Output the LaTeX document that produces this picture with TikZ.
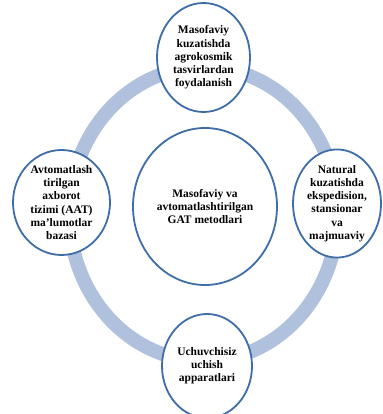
\documentclass[tikz,border=0pt]{standalone}
\usepackage{fontspec}
\setmainfont{Liberation Serif}
\usetikzlibrary{shapes.geometric}
\definecolor{ringblue}{RGB}{176,193,221}
\definecolor{edgeblue}{RGB}{62,109,168}
\tikzset{
  bubble/.style={ellipse, draw=edgeblue, line width=1.8pt, fill=white, inner sep=0pt,
    align=center, font=\fontsize{11.5}{13.2}\selectfont\bfseries},
  ring/.style={draw=ringblue, line width=14pt}
}
\begin{document}
\begin{tikzpicture}[x=1pt,y=-1pt]
\useasboundingbox (0,0) rectangle (382,414);
\draw[ring] (203.5,214) ellipse [x radius=134, y radius=147];
\node[bubble, minimum width=93pt, minimum height=109pt] (top) at (203.5,57.5)
  {Masofaviy\\kuzatishda\\agrokosmik\\tasvirlardan\\foydalanish};
\node[bubble, minimum width=97pt, minimum height=105pt] (left) at (61.5,202.5)
  {Avtomatlash\\tirilgan\\axborot\\tizimi (AAT)\\ma’lumotlar\\bazasi};
\node[bubble, minimum width=88pt, minimum height=104pt] (right) at (337,203.5)
  {Natural\\kuzatishda\\ekspedision,\\stansionar\\va\\majmuaviy};
\node[bubble, minimum width=90pt, minimum height=104pt] (bottom) at (207,366)
  {Uchuvchisiz\\uchish\\apparatlari};
\node[bubble, minimum width=144pt, minimum height=157pt] (centre) at (205,206.5)
  {Masofaviy va\\avtomatlashtirilgan\\GAT metodlari};
\end{tikzpicture}
\end{document}
